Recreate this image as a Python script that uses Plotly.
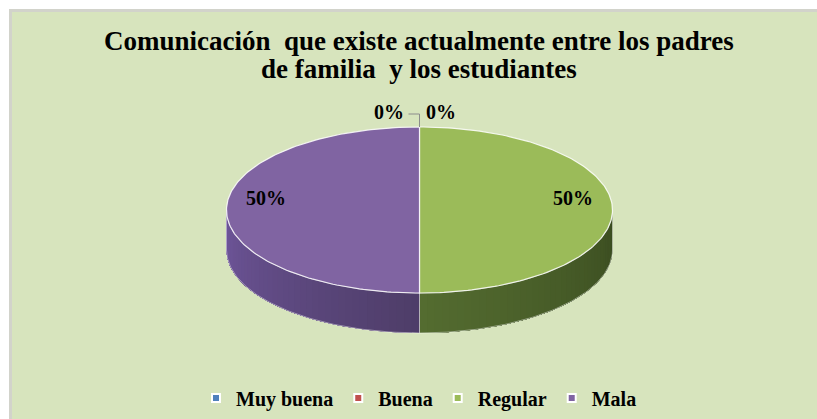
import numpy as np
import plotly.graph_objects as go

# data
categories = ["Muy buena", "Buena", "Regular", "Mala"]
values = [0, 0, 50, 50]
top_colors = ["#4F81BD", "#C0504D", "#9BBB59", "#8064A2"]
side_from = ["#3A5E8C", "#8E3B39", "#3A4C20", "#4E3D68"]
side_to = ["#3A5E8C", "#8E3B39", "#546C30", "#6F569B"]

W, H = 817, 419
cx, cy, rx, ry, depth = 419.5, 210, 193, 83, 40
FONT = "Liberation Serif"

total = sum(values)
fracs = np.array(values) / total
starts = np.concatenate([[0], np.cumsum(fracs)[:-1]]) * 360
ends = starts + fracs * 360


def ell(phi, dy=0.0):
    p = np.radians(phi)
    return cx + rx * np.sin(p), cy - ry * np.cos(p) + dy


def mix(c1, c2, t):
    a = [int(c1[i:i + 2], 16) for i in (1, 3, 5)]
    b = [int(c2[i:i + 2], 16) for i in (1, 3, 5)]
    return "rgb(%d,%d,%d)" % tuple(round(a[k] + (b[k] - a[k]) * t) for k in range(3))


fig = go.Figure()

# side walls (front half only: 90..270 deg clockwise from top)
for i, cat in enumerate(categories):
    a0, a1 = max(starts[i], 90), min(ends[i], 270)
    if a1 <= a0:
        continue
    n = 40
    edges = np.linspace(a0, a1, n + 1)
    for k in range(n):
        # each strip runs to the end of the arc; later strips paint over -> no seams
        ph = np.linspace(edges[k], a1, 60)
        tx, ty = ell(ph)
        bx, by = ell(ph[::-1], depth)
        c = mix(side_from[i], side_to[i], (k + 0.5) / n)
        fig.add_trace(go.Scatter(
            x=np.concatenate([tx, bx]), y=np.concatenate([ty, by]),
            fill="toself", mode="lines", fillcolor=c,
            line=dict(width=0), hoverinfo="skip", showlegend=False
        ))
    ph = np.linspace(a0, a1, 80)
    tx, ty = ell(ph)
    bx, by = ell(ph[::-1], depth)
    fig.add_trace(go.Scatter(
        x=np.concatenate([tx, bx, tx[:1]]), y=np.concatenate([ty, by, ty[:1]]),
        mode="lines", line=dict(color="rgba(255,255,255,0.45)", width=1),
        hoverinfo="skip", showlegend=False
    ))

# top faces
for i, cat in enumerate(categories):
    if values[i] == 0:
        continue
    ph = np.linspace(starts[i], ends[i], 150)
    ex, ey = ell(ph)
    fig.add_trace(go.Scatter(
        x=np.concatenate([[cx], ex, [cx]]), y=np.concatenate([[cy], ey, [cy]]),
        fill="toself", mode="lines", fillcolor=top_colors[i],
        line=dict(color="rgba(255,255,255,0.85)", width=1.2),
        name=cat, hoverinfo="skip", showlegend=False
    ))

# legend entries
for i, cat in enumerate(categories):
    fig.add_trace(go.Scatter(
        x=[None], y=[None], mode="markers", name=cat,
        marker=dict(symbol="square", size=8, color=top_colors[i],
                    line=dict(color="white", width=2))
    ))

# data labels
tpx, tpy = ell(0)
zero_offsets = [(-31, -15), (21, -15)]
zi = 0
for i, cat in enumerate(categories):
    pct = "%d%%" % round(fracs[i] * 100)
    if values[i] > 0:
        mid = (starts[i] + ends[i]) / 2
        lx = cx + 0.795 * rx * np.sin(np.radians(mid))
        ly = cy - 0.795 * ry * np.cos(np.radians(mid)) - 12
    else:
        dx, dy = zero_offsets[zi % 2]
        lx, ly = tpx + dx, tpy + dy
        if zi == 0:
            fig.add_trace(go.Scatter(
                x=[tpx, tpx, tpx - 11], y=[tpy, tpy - 13, tpy - 13], mode="lines",
                line=dict(color="#8C8C8C", width=1), hoverinfo="skip", showlegend=False
            ))
        zi += 1
    fig.add_annotation(x=lx, y=ly, text="<b>%s</b>" % pct, showarrow=False,
                       font=dict(family=FONT, size=20, color="black"))

# title
fig.add_annotation(x=419, y=41, text="<b>Comunicación  que existe actualmente entre los padres</b>",
                   showarrow=False, font=dict(family=FONT, size=27, color="black"))
fig.add_annotation(x=419, y=69, text="<b>de familia  y los estudiantes</b>",
                   showarrow=False, font=dict(family=FONT, size=27, color="black"))

fig.update_layout(
    width=W, height=H,
    margin=dict(l=0, r=0, t=0, b=0),
    paper_bgcolor="#D7E4BD", plot_bgcolor="rgba(0,0,0,0)",
    xaxis=dict(range=[0, W], visible=False, fixedrange=True),
    yaxis=dict(range=[H, 0], visible=False, fixedrange=True),
    shapes=[
        dict(type="rect", xref="x", yref="y", x0=0, y0=0, x1=W, y1=9,
             fillcolor="white", line=dict(width=0), layer="below"),
        dict(type="rect", xref="x", yref="y", x0=0, y0=0, x1=9, y1=H,
             fillcolor="white", line=dict(width=0), layer="below"),
        dict(type="rect", xref="x", yref="y", x0=10.5, y0=10.5, x1=W + 30, y1=H + 30,
             fillcolor="rgba(0,0,0,0)", line=dict(color="#D2D3CB", width=3), layer="below"),
    ],
    legend=dict(orientation="h", x=419 / W, xanchor="center",
                y=(H - 398) / H, yanchor="middle",
                font=dict(family=FONT, size=20, color="black", weight="bold"),
                bgcolor="rgba(0,0,0,0)", itemclick=False, itemdoubleclick=False),
    hovermode=False,
)

fig.write_html("out.html", config={"displayModeBar": False}, post_script=(
    "document.body.style.margin='0';"
    "document.body.style.overflow='hidden';"
    "document.documentElement.style.overflow='hidden';"
))
